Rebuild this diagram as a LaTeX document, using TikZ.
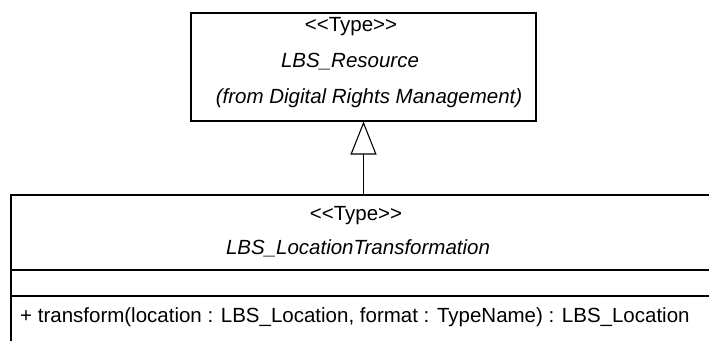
\documentclass[tikz,border=0pt]{standalone}
\usepackage{fontspec}
\setmainfont{Liberation Sans}
\usetikzlibrary{arrows.meta, calc}

\newcommand{\stereo}[1]{<\kern0pt<#1>\kern0pt>}

\tikzset{
	umlbox/.style={draw, line width=1.1pt, inner sep=0pt},
	umltext/.style={inner sep=0pt, anchor=center},
	generalize/.style={line width=1.1pt, -{Triangle[open, length=33pt, width=26pt, line width=1.1pt]}}
}

\begin{document}
\begin{tikzpicture}[x=1pt,y=-1pt, font=\fontsize{20.5}{24}\selectfont]
	\useasboundingbox (0,0) rectangle (709,340);
	\clip (0,0) rectangle (709,340);
	% Upper type
	\node[umlbox, minimum width=345pt, minimum height=108pt] (resource) at (363.5,67) {};
	\node[umltext] (rstereo) at (351,27) {\stereo{Type}};
	\node[umltext] (rname) at (350,62) {\itshape LBS\_Resource};
	\node[umltext] (rfrom) at (369,98) {\itshape (from Digital Rights Management)};
	% Lower type, runs past the right and bottom edges
	\node[umlbox, minimum width=720pt, minimum height=180pt] (transform) at (371,285) {};
	\node[umltext] (tstereo) at (356,216) {\stereo{Type}};
	\node[umltext] (tname) at (358,248) {\itshape LBS\_LocationTransformation};
	\draw[line width=1.1pt] (transform.west |- 0,270) coordinate (attrtop) -- (transform.east |- 0,270);
	\draw[line width=1.1pt] (transform.west |- 0,296) coordinate (optop) -- (transform.east |- 0,296);
	\node[umltext, anchor=west] (top1) at (20,317) {+ transform(location : LBS\_Location, format : TypeName) : LBS\_Location};
	% Generalization
	\draw[generalize] (resource.south |- transform.north) -- (resource.south);
\end{tikzpicture}
\end{document}
